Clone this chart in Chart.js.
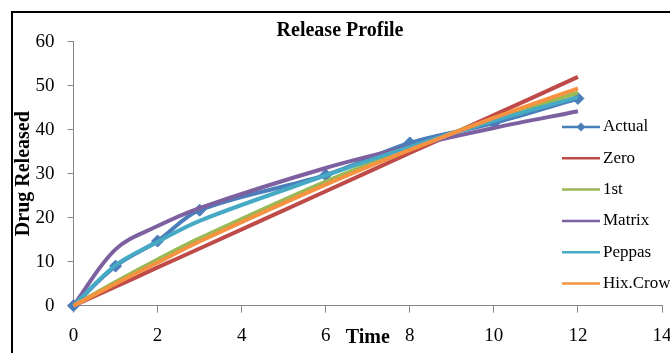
<!DOCTYPE html>
<html>
<head>
<meta charset="utf-8">
<title>Release Profile</title>
<script src="https://cdn.jsdelivr.net/npm/chart.js@4.4.1/dist/chart.umd.min.js"></script>
<style>
  html, body { margin: 0; padding: 0; background: #fff; overflow: hidden; }
  #wrap { position: absolute; left: 0; top: 0; width: 680px; height: 380px; }
</style>
</head>
<body>
<div id="wrap"><canvas id="chart-release" width="680" height="380"></canvas></div>
<script>
// ── data ──
const time    = [0, 1, 2, 3, 6, 8, 10, 12];
const actual  = [0, 9.0, 14.7, 21.7, 29.7, 37.0, 41.5, 47.1];
const zero    = [0, 4.3, 8.7, 13.0, 26.0, 34.7, 43.3, 52.0];
const first   = [0, 5.4, 10.5, 15.3, 28.2, 35.7, 42.5, 48.4];
const matrix  = [0, 12.8, 18.1, 22.2, 31.3, 36.2, 40.4, 44.2];
const peppas  = [0, 9.2, 14.5, 19.3, 29.6, 36.1, 42.0, 47.4];
const hixCrow = [0, 5.0, 9.8, 14.6, 27.5, 35.4, 42.7, 49.4];

const seriesNames = ['Actual', 'Zero', '1st', 'Matrix', 'Peppas', 'Hix.Crow'];
const xTicks = [0, 2, 4, 6, 8, 10, 12, 14];
const yTicks = [0, 10, 20, 30, 40, 50, 60];

// Excel 2007 palette
const colors = ['#4a7ebb', '#be4b48', '#98b954', '#7d60a0', '#46aac5', '#f69240'];
const SERIF = '"Liberation Serif", "Times New Roman", serif';

const pts = ys => ys.map((y, i) => ({ x: time[i], y }));

// ── plot frame (black box, runs off the right/bottom edge like the crop) ──
const frame = {
  id: 'frame',
  beforeDraw(chart) {
    const ctx = chart.ctx;
    ctx.save();
    ctx.fillStyle = '#fff';
    ctx.fillRect(0, 0, chart.width, chart.height);
    ctx.strokeStyle = '#000';
    ctx.lineWidth = 2;
    ctx.strokeRect(12, 12, 700, 400);
    ctx.restore();
  }
};

// ── legend sits inside the plot area on the right ──
const sideLegend = {
  id: 'sideLegend',
  afterDraw(chart) {
    const ctx = chart.ctx;
    ctx.save();
    ctx.font = '17px ' + SERIF;
    ctx.textBaseline = 'middle';
    chart.data.datasets.forEach((ds, i) => {
      const y = 127 + i * 31.3;
      ctx.strokeStyle = ds.borderColor;
      ctx.lineWidth = 2.5;
      ctx.beginPath();
      ctx.moveTo(562, y);
      ctx.lineTo(600, y);
      ctx.stroke();
      if (ds.pointRadius) {
        ctx.fillStyle = ds.borderColor;
        ctx.beginPath();
        ctx.moveTo(581, y - 4.5);
        ctx.lineTo(585.5, y);
        ctx.lineTo(581, y + 4.5);
        ctx.lineTo(576.5, y);
        ctx.closePath();
        ctx.fill();
      }
      ctx.fillStyle = '#000';
      ctx.fillText(ds.label, 603, y);
    });
    ctx.restore();
  }
};

const lineSet = (label, ys, idx) => ({
  label,
  data: pts(ys),
  borderColor: colors[idx],
  backgroundColor: colors[idx],
  borderWidth: 4,
  pointRadius: 0,
  showLine: true,
  tension: 0.35,
  clip: false,
  order: 6 - idx, // Excel draws later series on top
});

const datasets = [
  Object.assign(lineSet(seriesNames[0], actual, 0), {
    pointRadius: 6, pointStyle: 'rectRot', pointBorderWidth: 1,
  }),
  lineSet(seriesNames[1], zero, 1),
  lineSet(seriesNames[2], first, 2),
  lineSet(seriesNames[3], matrix, 3),
  lineSet(seriesNames[4], peppas, 4),
  lineSet(seriesNames[5], hixCrow, 5),
];

new Chart(document.getElementById('chart-release'), {
  type: 'scatter',
  data: { datasets },
  options: {
    responsive: false,
    animation: false,
    layout: { padding: 0 },
    plugins: {
      legend: { display: false },
      tooltip: { enabled: false },
      title: {
        display: true,
        text: 'Release Profile',
        color: '#000',
        font: { family: SERIF, size: 20, weight: 'bold', lineHeight: 1 },
        padding: { top: 21.3, bottom: 0.4 },
      },
    },
    scales: {
      x: {
        type: 'linear', min: 0, max: 14,
        afterBuildTicks: s => { s.ticks = xTicks.map(v => ({ value: v })); },
        afterFit: s => { s.height = 74.3; s.paddingRight = 18; },
        grid: { drawOnChartArea: false, drawTicks: true, tickLength: 7, color: '#868686' },
        border: { color: '#868686', width: 1 },
        ticks: { color: '#000', padding: 11.5, font: { family: SERIF, size: 19 } },
        title: {
          display: true, text: 'Time', color: '#000',
          font: { family: SERIF, size: 20, weight: 'bold' },
          padding: { top: 0, bottom: 29.8 },
        },
      },
      y: {
        type: 'linear', min: 0, max: 60,
        afterBuildTicks: s => { s.ticks = yTicks.map(v => ({ value: v })); },
        afterFit: s => { s.width = 73.5; },
        grid: { drawOnChartArea: false, drawTicks: true, tickLength: 6, color: '#868686' },
        border: { color: '#868686', width: 1 },
        ticks: { color: '#000', padding: 13, font: { family: SERIF, size: 19 } },
        title: {
          display: true, text: 'Drug Released', color: '#000',
          font: { family: SERIF, size: 20, weight: 'bold' },
          padding: { top: 11.75, bottom: 0 },
        },
      },
    },
  },
  plugins: [frame, sideLegend],
});
</script>
</body>
</html>
